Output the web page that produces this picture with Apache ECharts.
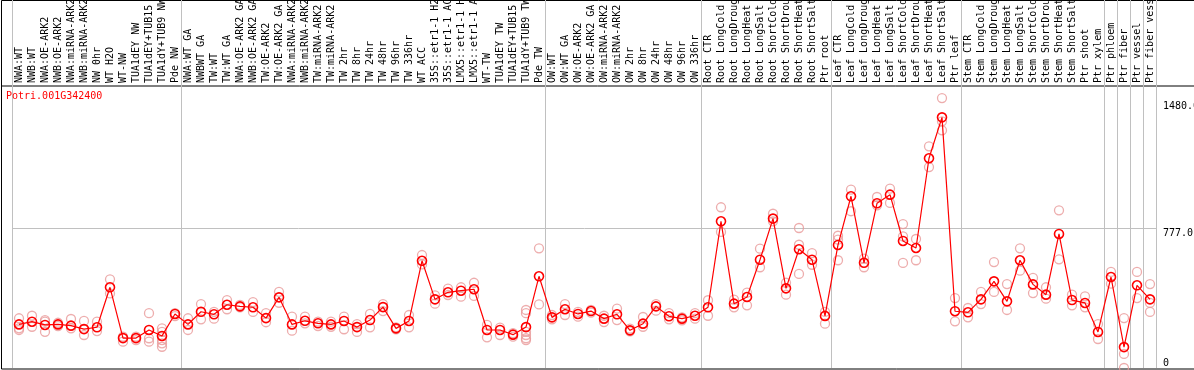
<!doctype html>
<html>
<head>
<meta charset="utf-8">
<title>Potri.001G342400</title>
<style>
  html, body { margin: 0; padding: 0; background: #fff; }
  #main { width: 1194px; height: 370px; }
</style>
</head>
<body>
<div id="main"></div>
<script src="https://cdn.jsdelivr.net/npm/echarts@6/dist/echarts.min.js"></script>
<script>
var geneId = 'Potri.001G342400';

var categories = [
    'NWA:WT', 'NWB:WT', 'NWA:OE-ARK2', 'NWB:OE-ARK2', 'NWA:miRNA-ARK2', 'NWB:miRNA-ARK2',
    'NW 0hr', 'WT H2O', 'WT-NW', 'TUA1dEY NW', 'TUA1dEY+TUB15 NW', 'TUA1dY+TUB9 NW', 'Pde NW',
    'NWA:WT GA', 'NWBWT GA', 'TW:WT', 'TW:WT GA', 'NWA:OE-ARK2 GA', 'NWB:OE-ARK2 GA',
    'TW:OE-ARK2', 'TW:OE-ARK2 GA', 'NWA:miRNA-ARK2 GA', 'NWB:miRNA-ARK2 GA', 'TW:miRNA-ARK2',
    'TW:miRNA-ARK2 GA', 'TW 2hr', 'TW 8hr', 'TW 24hr', 'TW 48hr', 'TW 96hr', 'TW 336hr',
    'WT ACC', '35S::etr1-1 H2O', '35S::etr1-1 ACC', 'LMX5::etr1-1 H2O', 'LMX5::etr1-1 ACC',
    'WT-TW', 'TUA1dEY TW', 'TUA1dEY+TUB15 TW', 'TUA1dY+TUB9 TW', 'Pde TW',
    'OW:WT', 'OW:WT GA', 'OW:OE-ARK2', 'OW:OE-ARK2 GA', 'OW:miRNA-ARK2', 'OW:miRNA-ARK2 GA',
    'OW 2hr', 'OW 8hr', 'OW 24hr', 'OW 48hr', 'OW 96hr', 'OW 336hr',
    'Root CTR', 'Root LongCold', 'Root LongDrought', 'Root LongHeat', 'Root LongSalt',
    'Root ShortCold', 'Root ShortDrought', 'Root ShortHeat', 'Root ShortSalt', 'Ptr root',
    'Leaf CTR', 'Leaf LongCold', 'Leaf LongDrought', 'Leaf LongHeat', 'Leaf LongSalt',
    'Leaf ShortCold', 'Leaf ShortDrought', 'Leaf ShortHeat', 'Leaf ShortSalt', 'Ptr leaf',
    'Stem CTR', 'Stem LongCold', 'Stem LongDrought', 'Stem LongHeat', 'Stem LongSalt',
    'Stem ShortCold', 'Stem ShortDrought', 'Stem ShortHeat', 'Stem ShortSalt', 'Ptr shoot',
    'Ptr xylem', 'Ptr phloem', 'Ptr fiber', 'Ptr vessel', 'Ptr fiber vessel'
];

// mean expression per sample
var means = [
    242, 257, 239, 242, 235, 216, 226, 448, 166, 166, 211, 178, 300,
    242, 312, 298, 351, 342, 337, 277, 392, 242, 262, 248, 242, 261, 227, 266, 338, 220, 261,
    595, 381, 420, 429, 437, 211, 211, 185, 227, 509,
    281, 326, 300, 316, 274, 298, 209, 246, 342, 287, 274, 290,
    337, 814, 357, 394, 601, 829, 442, 659, 601, 289,
    683, 953, 584, 914, 962, 705, 666, 1164, 1391, 315,
    309, 381, 481, 370, 598, 464, 407, 744, 377, 361,
    200, 505, 116, 459, 381
];

// individual replicate values per sample
var replicates = [
    [276, 220, 211], [290, 229], [266, 257, 201], [251, 233], [272, 220], [261, 183], [257, 205],
    [492, 414], [146, 174], [155, 174], [304, 165, 146], [220, 201, 155, 137, 118], [304, 288],
    [276, 211], [355, 270], [312, 274], [377, 326], [350, 337], [366, 311], [304, 254],
    [423, 362], [285, 207], [285, 248], [257, 233], [257, 229], [285, 215], [244, 200],
    [300, 226], [355, 316], [226, 215], [294, 226], [627, 575], [403, 357], [440, 405],
    [448, 396], [473, 400], [239, 170], [224, 183], [193, 174], [322, 304, 201, 183, 165, 155],
    [664, 353],
    [294, 270], [355, 294], [312, 285], [322, 307], [290, 255], [329, 266], [218, 204],
    [283, 229], [355, 318], [304, 270], [281, 265], [304, 274],
    [376, 290], [892, 755], [379, 337], [418, 348], [662, 559], [856, 814], [473, 407],
    [777, 684, 522], [638, 573], [311, 246],
    [734, 712, 598], [990, 870], [607, 559], [949, 903], [995, 916], [799, 731, 583],
    [716, 598], [1230, 1115], [1498, 1369, 1319], [388, 259],
    [333, 281], [422, 355], [588, 422], [466, 322], [664, 540], [500, 416], [448, 385],
    [875, 603], [407, 348], [398, 337],
    [244, 161], [533, 468], [277, 78, 0], [533, 388], [466, 361, 311]
];

var labelTicks = [777, 1480];
var zeroTick = [0];
var groupStarts = [0, 13, 41, 53, 63, 73, 84, 85, 86, 87];

var repData = [];
replicates.forEach(function (reps, i) {
    reps.forEach(function (v) {
        repData.push([i, v]);
    });
});

var font = 'DejaVu Sans Mono';
var gridLeft = 12.5;
var gridRight = 37.5;

function isGroupStart(index) {
    return groupStarts.indexOf(index) >= 0;
}

function fmt(v) {
    return v === 0 ? '0' : v.toFixed(1);
}

var chart = echarts.init(document.getElementById('main'));

chart.setOption({
    animation: false,
    backgroundColor: '#fff',
    title: {
        text: geneId,
        left: 6,
        top: 91,
        padding: 0,
        textStyle: { color: '#ff0000', fontFamily: font, fontSize: 10, fontWeight: 'normal' }
    },
    grid: [
        { left: gridLeft, right: gridRight, top: 0, height: 86, containLabel: false, outerBoundsMode: 'none' },
        { left: gridLeft, right: gridRight, top: 86, bottom: 2, containLabel: false, outerBoundsMode: 'none' }
    ],
    xAxis: [{
        type: 'category',
        gridIndex: 0,
        data: categories,
        axisLine: { show: false },
        axisTick: { show: false },
        axisLabel: { show: false },
        splitLine: { show: true, interval: isGroupStart, lineStyle: { color: '#c0c0c0', width: 1 } }
    }, {
        type: 'category',
        gridIndex: 1,
        position: 'top',
        data: categories,
        axisLine: { show: false },
        axisTick: { show: false },
        axisLabel: {
            interval: 0,
            rotate: 90,
            margin: 3,
            color: '#000',
            fontFamily: font,
            fontSize: 10,
            hideOverlap: false
        },
        splitLine: { show: true, interval: isGroupStart, lineStyle: { color: '#c0c0c0', width: 1 } }
    }],
    yAxis: [{
        type: 'value',
        gridIndex: 0,
        show: false
    }, {
        type: 'value',
        gridIndex: 1,
        position: 'right',
        min: 0,
        max: 1565,
        axisLine: { show: false },
        axisTick: { show: false, customValues: [777] },
        splitLine: { show: true, lineStyle: { color: '#c0c0c0', width: 1 } },
        axisLabel: {
            customValues: labelTicks,
            formatter: fmt,
            margin: 6.5,
            align: 'left',
            verticalAlign: 'top',
            color: '#000',
            fontFamily: font,
            fontSize: 10
        }
    }, {
        type: 'value',
        gridIndex: 1,
        position: 'right',
        min: 0,
        max: 1565,
        axisLine: { show: false },
        axisTick: { show: false },
        splitLine: { show: false },
        axisLabel: {
            customValues: zeroTick,
            formatter: fmt,
            margin: 6.5,
            align: 'left',
            verticalAlign: 'bottom',
            color: '#000',
            fontFamily: font,
            fontSize: 10
        }
    }],
    graphic: [{
        type: 'rect',
        silent: true,
        shape: { x: 1.5, y: 0.5, width: 1200, height: 368.5 },
        style: { fill: null, stroke: '#000', lineWidth: 1 }
    }, {
        type: 'line',
        silent: true,
        shape: { x1: 1, y1: 86, x2: 1194, y2: 86 },
        style: { stroke: '#000', lineWidth: 1 }
    }],
    series: [{
        name: 'replicates',
        type: 'scatter',
        xAxisIndex: 1,
        yAxisIndex: 1,
        symbol: 'circle',
        symbolSize: 9,
        silent: true,
        itemStyle: { color: 'rgba(0,0,0,0)', borderColor: '#e89898', borderWidth: 1.3 },
        data: repData
    }, {
        name: 'mean',
        type: 'line',
        xAxisIndex: 1,
        yAxisIndex: 1,
        symbol: 'circle',
        symbolSize: 9,
        showAllSymbol: true,
        silent: true,
        lineStyle: { color: '#ff0000', width: 1.2 },
        itemStyle: { color: 'rgba(0,0,0,0)', borderColor: '#ff0000', borderWidth: 1.6 },
        data: means
    }]
});

window.addEventListener('resize', function () {
    chart.resize();
});
</script>
</body>
</html>
